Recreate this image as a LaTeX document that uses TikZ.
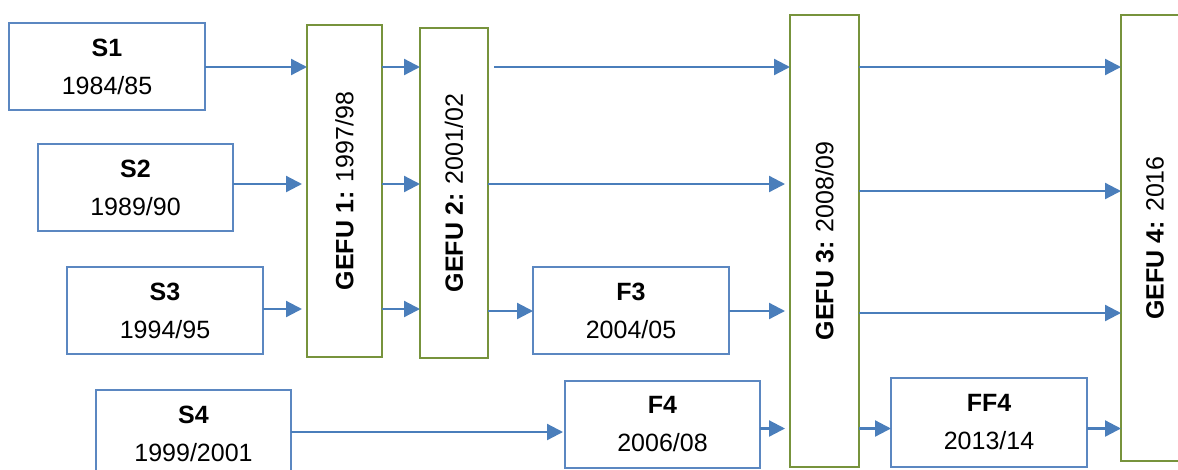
\documentclass[tikz,border=0pt]{standalone}
\usepackage{fontspec}
\setmainfont{Liberation Sans}
\usetikzlibrary{arrows.meta}
\definecolor{lineblue}{HTML}{4A7EBB}
\definecolor{boxblue}{HTML}{5B87C1}
\definecolor{boxgreen}{HTML}{77933C}
\tikzset{
  sbox/.style={draw=boxblue, line width=1.1pt, fill=white, rectangle, inner sep=0pt, outer sep=0pt,
    align=center, font=\fontsize{18.75pt}{28.5pt}\selectfont},
  gbox/.style={draw=boxgreen, line width=1.6pt, fill=white, rectangle, inner sep=0pt, outer sep=0pt,
    font=\fontsize{18.75pt}{22pt}\selectfont},
  arr/.style={draw=lineblue, line width=1.7pt, -{Triangle[length=12pt,width=12pt]}},
}
\begin{document}
\begin{tikzpicture}[x=0.75pt,y=-0.75pt]
\useasboundingbox (0,0) rectangle (1178,469);
\clip (0,0) rectangle (1178,469);
% source boxes
\node[sbox, minimum width=196*0.75pt, minimum height=87*0.75pt] (S1) at (107,66.5) {\textbf{S1}\\1984/85};
\node[sbox, minimum width=195*0.75pt, minimum height=87*0.75pt] (S2) at (135.5,187.5) {\textbf{S2}\\1989/90};
\node[sbox, minimum width=196*0.75pt, minimum height=87*0.75pt] (S3) at (165,310.5) {\textbf{S3}\\1994/95};
\node[sbox, minimum width=195*0.75pt, minimum height=87*0.75pt] (S4) at (193.5,433.5) {\textbf{S4}\\1999/2001};
\node[sbox, minimum width=196*0.75pt, minimum height=87*0.75pt] (F3) at (631,310.5) {\textbf{F3}\\2004/05};
\node[sbox, minimum width=195*0.75pt, minimum height=87*0.75pt] (F4) at (662.5,424.5) {\textbf{F4}\\2006/08};
\node[sbox, minimum width=196*0.75pt, minimum height=89*0.75pt] (FF4) at (989,422.5) {\textbf{FF4}\\2013/14};
% GEFU boxes
\node[gbox, minimum width=75*0.75pt, minimum height=332*0.75pt] (G1) at (344.5,191) {\rotatebox{90}{\textbf{GEFU 1:} 1997/98}};
\node[gbox, minimum width=68*0.75pt, minimum height=330*0.75pt] (G2) at (454,193) {\rotatebox{90}{\textbf{GEFU 2:} 2001/02}};
\node[gbox, minimum width=69*0.75pt, minimum height=452*0.75pt] (G3) at (824.5,241) {\rotatebox{90}{\textbf{GEFU 3:} 2008/09}};
\node[gbox, minimum width=68*0.75pt, minimum height=446*0.75pt] (G4) at (1155,238) {\rotatebox{90}{\textbf{GEFU 4:} 2016}};
% row levels
\coordinate (r1) at (0,67);
\coordinate (r2) at (0,184);
\coordinate (r2b) at (0,191);
\coordinate (r3) at (0,309);
\coordinate (r3b) at (0,311);
\coordinate (r3c) at (0,313);
\coordinate (r4) at (0,432);
\coordinate (r4b) at (0,428.5);
% row 1
\draw[arr] (S1.east |- r1) -- (G1.west |- r1);
\draw[arr] (G1.east |- r1) -- (G2.west |- r1);
\draw[arr, shorten <=6*0.75pt] (G2.east |- r1) -- (G3.west |- r1);
\draw[arr] (G3.east |- r1) -- (G4.west |- r1);
% row 2
\draw[arr, shorten >=5*0.75pt] (S2.east |- r2) -- (G1.west |- r2);
\draw[arr] (G1.east |- r2) -- (G2.west |- r2);
\draw[arr, shorten >=5*0.75pt] (G2.east |- r2) -- (G3.west |- r2);
\draw[arr] (G3.east |- r2b) -- (G4.west |- r2b);
% row 3
\draw[arr, shorten >=5*0.75pt] (S3.east |- r3) -- (G1.west |- r3);
\draw[arr] (G1.east |- r3) -- (G2.west |- r3);
\draw[arr] (G2.east |- r3b) -- (F3.west |- r3b);
\draw[arr, shorten >=5*0.75pt] (F3.east |- r3b) -- (G3.west |- r3b);
\draw[arr] (G3.east |- r3c) -- (G4.west |- r3c);
% row 4
\draw[arr, shorten >=2*0.75pt] (S4.east |- r4) -- (F4.west |- r4);
\draw[arr, shorten >=5*0.75pt] (F4.east |- r4b) -- (G3.west |- r4b);
\draw[arr] (G3.east |- r4b) -- (FF4.west |- r4b);
\draw[arr] (FF4.east |- r4b) -- (G4.west |- r4b);
\end{tikzpicture}
\end{document}
